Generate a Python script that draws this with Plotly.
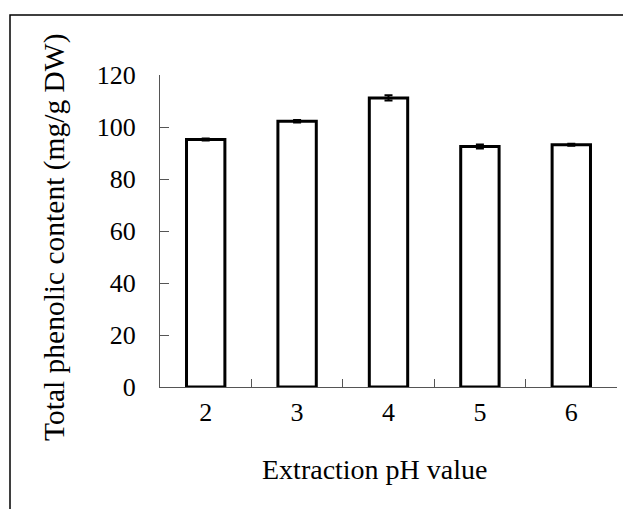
import plotly.graph_objects as go

categories = ["2", "3", "4", "5", "6"]
values = [95.2, 102.2, 111.2, 92.5, 93.2]
errors = [0.4, 0.5, 1.0, 0.8, 0.4]
y_ticks = [0, 20, 40, 60, 80, 100, 120]
x_title = "Extraction pH value"
y_title = "Total phenolic content (mg/g DW)"

# page body has an 8px margin; size the figure so it fills the 631x509 window
W, H = 623, 501
L, R, T, B = 152, 14, 67, 122
pw = W - L - R
ph = H - T - B
OFF = 8  # page offset in the window

def px_to_paper_x(px):
    return (px - OFF - L) / pw

def px_to_paper_y(py):
    return (H - B - (py - OFF)) / ph

fig = go.Figure()
fig.add_trace(go.Bar(
    x=categories, y=values,
    width=0.42,
    marker=dict(color="white", line=dict(color="black", width=3)),
    error_y=dict(type="data", array=errors, visible=True, color="black", thickness=2, width=4),
))

FAM = "Liberation Serif, Times New Roman, serif"
font = dict(family=FAM, size=26, color="black")
xtitle_font = dict(family=FAM, size=28, color="black")
ytitle_font = dict(family=FAM, size=29.5, color="black")

fig.update_layout(
    width=W, height=H,
    margin=dict(l=L, r=R, t=T, b=B),
    plot_bgcolor="white", paper_bgcolor="white",
    showlegend=False,
    font=font,
    xaxis=dict(
        type="category",
        showline=True, linecolor="#555", linewidth=1,
        ticks="inside", ticklen=8, tickcolor="#555", tickwidth=1,
        tickson="boundaries",
        showgrid=False, zeroline=False,
        ticklabelstandoff=2,
        tickfont=font,
    ),
    yaxis=dict(
        range=[0, 120],
        tickvals=y_ticks,
        showline=True, linecolor="#555", linewidth=1,
        ticks="inside", ticklen=9, tickcolor="#555", tickwidth=1,
        showgrid=False, zeroline=False,
        ticklabelstandoff=18,
        tickfont=font,
    ),
)

fig.add_annotation(text=x_title, xref="paper", yref="paper",
                   x=px_to_paper_x(374), y=px_to_paper_y(469),
                   xanchor="center", yanchor="middle", showarrow=False, font=xtitle_font)
fig.add_annotation(text=y_title, xref="paper", yref="paper", textangle=-90,
                   x=px_to_paper_x(55), y=px_to_paper_y(237),
                   xanchor="center", yanchor="middle", showarrow=False, font=ytitle_font)

fig.add_shape(type="rect", xref="paper", yref="paper",
              x0=px_to_paper_x(10), x1=2, y0=-2, y1=px_to_paper_y(15),
              line=dict(color="black", width=1.5), fillcolor="rgba(0,0,0,0)", layer="below")

fig.write_html("out.html")
